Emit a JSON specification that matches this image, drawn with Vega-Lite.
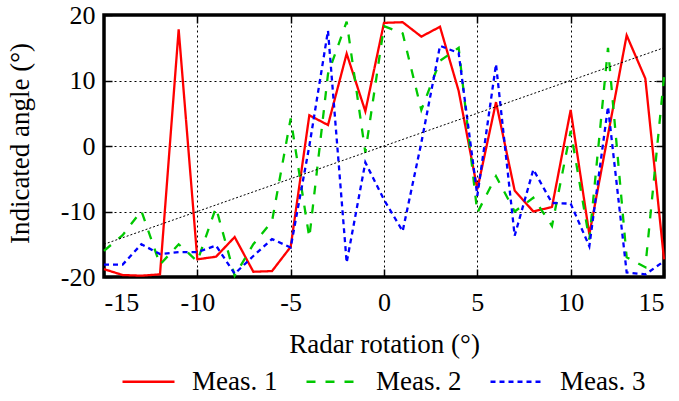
{
  "$schema": "https://vega.github.io/schema/vega-lite/v6.json",
  "width": 560,
  "height": 262,
  "autosize": {"type": "none"},
  "padding": {"left": 104, "top": 15, "right": 15, "bottom": 124},
  "background": "white",
  "config": {
    "font": "Liberation Serif",
    "view": {"stroke": "black", "strokeWidth": 3.5},
    "axis": {
      "labelFont": "Liberation Serif",
      "titleFont": "Liberation Serif",
      "labelFontSize": 26,
      "titleFontSize": 27,
      "labelColor": "black",
      "titleColor": "black",
      "titleFontWeight": "normal",
      "domain": false,
      "tickColor": "black",
      "tickWidth": 1.5,
      "tickSize": -8,
      "gridColor": "black",
      "gridDash": [2, 3],
      "gridWidth": 1,
      "gridOpacity": 1
    },
    "legend": {
      "labelFont": "Liberation Serif",
      "labelFontSize": 27,
      "labelColor": "black"
    }
  },
  "datasets": {
    "meas": [
      {"x": -15, "series": "Meas. 1", "y": -18.8},
      {"x": -14, "series": "Meas. 1", "y": -19.7},
      {"x": -13, "series": "Meas. 1", "y": -19.8},
      {"x": -12, "series": "Meas. 1", "y": -19.6},
      {"x": -11, "series": "Meas. 1", "y": 17.8},
      {"x": -10, "series": "Meas. 1", "y": -17.3},
      {"x": -9, "series": "Meas. 1", "y": -16.9},
      {"x": -8, "series": "Meas. 1", "y": -13.9},
      {"x": -7, "series": "Meas. 1", "y": -19.2},
      {"x": -6, "series": "Meas. 1", "y": -19.1},
      {"x": -5, "series": "Meas. 1", "y": -15.4},
      {"x": -4, "series": "Meas. 1", "y": 4.7},
      {"x": -3, "series": "Meas. 1", "y": 3.2},
      {"x": -2, "series": "Meas. 1", "y": 14.1},
      {"x": -1, "series": "Meas. 1", "y": 5.3},
      {"x": 0, "series": "Meas. 1", "y": 18.8},
      {"x": 1, "series": "Meas. 1", "y": 18.9},
      {"x": 2, "series": "Meas. 1", "y": 16.7},
      {"x": 3, "series": "Meas. 1", "y": 18.2},
      {"x": 4, "series": "Meas. 1", "y": 8.4},
      {"x": 5, "series": "Meas. 1", "y": -6.6},
      {"x": 6, "series": "Meas. 1", "y": 6.7},
      {"x": 7, "series": "Meas. 1", "y": -6.8},
      {"x": 8, "series": "Meas. 1", "y": -10.0},
      {"x": 9, "series": "Meas. 1", "y": -9.3},
      {"x": 10, "series": "Meas. 1", "y": 5.5},
      {"x": 11, "series": "Meas. 1", "y": -13.5},
      {"x": 12, "series": "Meas. 1", "y": 1.7},
      {"x": 13, "series": "Meas. 1", "y": 16.9},
      {"x": 14, "series": "Meas. 1", "y": 10.3},
      {"x": 15, "series": "Meas. 1", "y": -17.3},
      {"x": -15, "series": "Meas. 2", "y": -16.0},
      {"x": -14, "series": "Meas. 2", "y": -13.6},
      {"x": -13, "series": "Meas. 2", "y": -9.9},
      {"x": -12, "series": "Meas. 2", "y": -18.1},
      {"x": -11, "series": "Meas. 2", "y": -15.0},
      {"x": -10, "series": "Meas. 2", "y": -17.6},
      {"x": -9, "series": "Meas. 2", "y": -9.4},
      {"x": -8, "series": "Meas. 2", "y": -19.8},
      {"x": -7, "series": "Meas. 2", "y": -15.0},
      {"x": -6, "series": "Meas. 2", "y": -11.5},
      {"x": -5, "series": "Meas. 2", "y": 4.2},
      {"x": -4, "series": "Meas. 2", "y": -14.0},
      {"x": -3, "series": "Meas. 2", "y": 11.0},
      {"x": -2, "series": "Meas. 2", "y": 19.0},
      {"x": -1, "series": "Meas. 2", "y": -1.0},
      {"x": 0, "series": "Meas. 2", "y": 18.3},
      {"x": 1, "series": "Meas. 2", "y": 17.2},
      {"x": 2, "series": "Meas. 2", "y": 5.5},
      {"x": 3, "series": "Meas. 2", "y": 13.0},
      {"x": 4, "series": "Meas. 2", "y": 15.0},
      {"x": 5, "series": "Meas. 2", "y": -10.2},
      {"x": 6, "series": "Meas. 2", "y": -4.6},
      {"x": 7, "series": "Meas. 2", "y": -10.0},
      {"x": 8, "series": "Meas. 2", "y": -7.9},
      {"x": 9, "series": "Meas. 2", "y": -12.2},
      {"x": 10, "series": "Meas. 2", "y": 2.3},
      {"x": 11, "series": "Meas. 2", "y": -14.3},
      {"x": 12, "series": "Meas. 2", "y": 15.0},
      {"x": 13, "series": "Meas. 2", "y": -17.0},
      {"x": 14, "series": "Meas. 2", "y": -18.5},
      {"x": 15, "series": "Meas. 2", "y": 10.5},
      {"x": -15, "series": "Meas. 3", "y": -18.1},
      {"x": -14, "series": "Meas. 3", "y": -18.1},
      {"x": -13, "series": "Meas. 3", "y": -15.0},
      {"x": -12, "series": "Meas. 3", "y": -16.5},
      {"x": -11, "series": "Meas. 3", "y": -16.2},
      {"x": -10, "series": "Meas. 3", "y": -16.2},
      {"x": -9, "series": "Meas. 3", "y": -15.2},
      {"x": -8, "series": "Meas. 3", "y": -19.5},
      {"x": -7, "series": "Meas. 3", "y": -16.8},
      {"x": -6, "series": "Meas. 3", "y": -14.2},
      {"x": -5, "series": "Meas. 3", "y": -15.5},
      {"x": -4, "series": "Meas. 3", "y": 0.0},
      {"x": -3, "series": "Meas. 3", "y": 17.6},
      {"x": -2, "series": "Meas. 3", "y": -17.8},
      {"x": -1, "series": "Meas. 3", "y": -2.5},
      {"x": 0, "series": "Meas. 3", "y": -8.2},
      {"x": 1, "series": "Meas. 3", "y": -13.0},
      {"x": 2, "series": "Meas. 3", "y": 0.5},
      {"x": 3, "series": "Meas. 3", "y": 15.3},
      {"x": 4, "series": "Meas. 3", "y": 14.2},
      {"x": 5, "series": "Meas. 3", "y": -7.6},
      {"x": 6, "series": "Meas. 3", "y": 12.5},
      {"x": 7, "series": "Meas. 3", "y": -13.7},
      {"x": 8, "series": "Meas. 3", "y": -3.6},
      {"x": 9, "series": "Meas. 3", "y": -8.7},
      {"x": 10, "series": "Meas. 3", "y": -8.8},
      {"x": 11, "series": "Meas. 3", "y": -15.3},
      {"x": 12, "series": "Meas. 3", "y": 6.0},
      {"x": 13, "series": "Meas. 3", "y": -19.3},
      {"x": 14, "series": "Meas. 3", "y": -19.6},
      {"x": 15, "series": "Meas. 3", "y": -17.6}
    ],
    "diag": [
      {"x": -15, "y": -15},
      {"x": 15, "y": 15}
    ]
  },
  "layer": [
    {
      "data": {"name": "meas"},
      "mark": {"type": "line", "strokeWidth": 2.3, "clip": false},
      "encoding": {
        "x": {
          "field": "x", "type": "quantitative",
          "scale": {"domain": [-15, 15], "nice": false, "zero": false},
          "axis": {
            "values": [-15, -10, -5, 0, 5, 10, 15],
            "labelExpr": "'' + datum.value",
            "grid": true,
            "labelPadding": 20,
            "title": "Radar rotation (°)",
            "titleX": 280,
            "titleY": 75,
            "titleBaseline": "alphabetic",
            "titleAnchor": "middle"
          }
        },
        "y": {
          "field": "y", "type": "quantitative",
          "scale": {"domain": [-20, 20], "nice": false, "zero": false},
          "axis": {
            "values": [-20, -10, 0, 10, 20],
            "labelExpr": "'' + datum.value",
            "grid": true,
            "labelPadding": 17,
            "title": "Indicated angle (°)",
            "titleX": -84,
            "titleY": 128,
            "titleBaseline": "middle",
            "titleAnchor": "middle"
          }
        },
        "color": {
          "field": "series", "type": "nominal",
          "scale": {"domain": ["Meas. 1", "Meas. 2", "Meas. 3"], "range": ["#ff0000", "#00c800", "#0000ff"]},
          "legend": {
            "title": null,
            "orient": "none",
            "legendX": 17,
            "legendY": 339,
            "direction": "horizontal",
            "symbolType": "stroke",
            "symbolSize": 2704,
            "symbolStrokeWidth": 2.3,
            "labelOffset": 16,
            "columnPadding": 23,
            "padding": 0
          }
        },
        "strokeDash": {
          "field": "series", "type": "nominal",
          "scale": {"domain": ["Meas. 1", "Meas. 2", "Meas. 3"], "range": [[1, 0], [9, 10], [5, 4]]}
        }
      }
    },
    {
      "data": {"name": "diag"},
      "mark": {"type": "line", "color": "black", "strokeWidth": 1, "strokeDash": [2, 2]},
      "encoding": {
        "x": {
          "field": "x", "type": "quantitative",
          "scale": {"domain": [-15, 15], "nice": false, "zero": false},
          "axis": {"orient": "top", "values": [-10, -5, 0, 5, 10], "labels": false, "title": null, "grid": false}
        },
        "y": {
          "field": "y", "type": "quantitative",
          "scale": {"domain": [-20, 20], "nice": false, "zero": false},
          "axis": {"orient": "right", "values": [-10, 0, 10], "labels": false, "title": null, "grid": false}
        }
      }
    }
  ],
  "resolve": {"scale": {"x": "independent", "y": "independent"}}
}
